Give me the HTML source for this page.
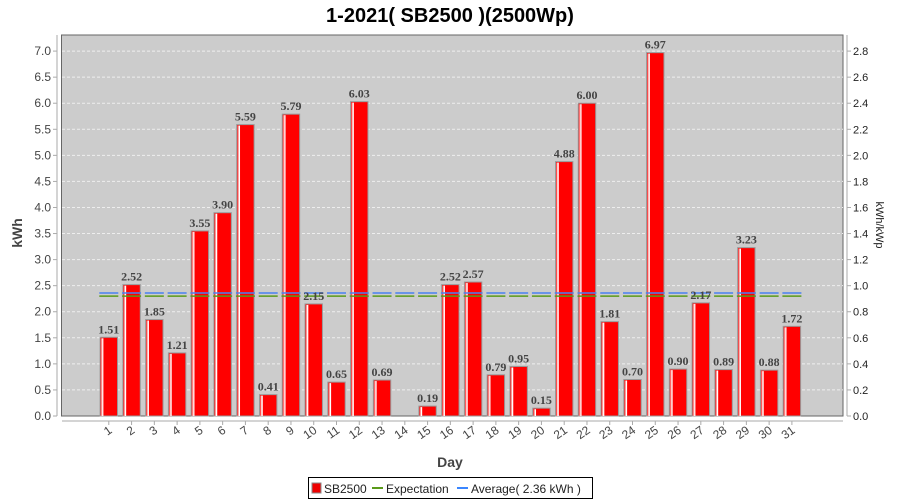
<!DOCTYPE html>
<html><head><meta charset="utf-8"><style>
html,body{margin:0;padding:0;background:#fff;}
svg{display:block;font-family:"Liberation Sans",sans-serif;}
</style></head><body>
<svg width="900" height="500" xmlns="http://www.w3.org/2000/svg">
<rect width="900" height="500" fill="#fff"/>
<text x="450" y="22" text-anchor="middle" font-size="20" font-weight="bold" fill="#000">1-2021( SB2500 )(2500Wp)</text>
<rect x="61.5" y="35" width="781.5" height="381" fill="#cccccc" stroke="#666" stroke-width="1"/>
<g id="grid" stroke="#eee" stroke-dasharray="3,2" stroke-width="1"></g>
<g id="bars"></g>
<g id="lines"></g>
<g id="axes" font-size="12" fill="#444"></g>
<line x1="57" y1="35" x2="57" y2="416" stroke="#aaa"/>
<line x1="847" y1="35" x2="847" y2="416" stroke="#aaa"/>
<line x1="62" y1="421" x2="843" y2="421" stroke="#aaa"/>
<text x="22" y="233" transform="rotate(-90 22 233)" text-anchor="middle" font-size="14" font-weight="bold" fill="#444">kWh</text>
<text x="876" y="225" transform="rotate(90 876 225)" text-anchor="middle" font-size="11" fill="#222">kWh/kWp</text>
<text x="450" y="467" text-anchor="middle" font-size="14" font-weight="bold" fill="#444">Day</text>
<rect x="308.5" y="477.5" width="284" height="21" fill="#fff" stroke="#000"/>
<rect x="312" y="483" width="9" height="10" fill="#e00" stroke="#888"/>
<text x="324" y="493" font-size="12" fill="#222">SB2500</text>
<line x1="372" y1="488" x2="383" y2="488" stroke="#5a9a1a" stroke-width="2"/>
<text x="386" y="493" font-size="12" fill="#222">Expectation</text>
<line x1="457" y1="488" x2="468" y2="488" stroke="#3a86ff" stroke-width="2"/>
<text x="471" y="493" font-size="12" fill="#222">Average( 2.36 kWh )</text>
</svg>
<script>
var ns="http://www.w3.org/2000/svg";
function el(p,t,a,txt){var e=document.createElementNS(ns,t);for(var k in a)e.setAttribute(k,a[k]);if(txt!=null)e.textContent=txt;document.getElementById(p).appendChild(e);return e;}
var y0=416,s=52.13;
for(var v=0.5;v<=7.01;v+=0.5){var y=y0-v*s;el('grid','line',{x1:62,x2:843,y1:y,y2:y});}
for(var v=0;v<=7.01;v+=0.5){var y=y0-v*s;el('axes','line',{x1:53,x2:57,y1:y,y2:y,stroke:'#aaa'});el('axes','text',{x:51,y:y+4,'text-anchor':'end','font-size':12,fill:'#444'},v.toFixed(1));}
for(var v=0;v<=2.81;v+=0.2){var y=y0-v*2.5*s;el('axes','line',{x1:847,x2:851,y1:y,y2:y,stroke:'#aaa'});el('axes','text',{x:853,y:y+4,'font-size':11,fill:'#222'},v.toFixed(1));}
var d=[1.51,2.52,1.85,1.21,3.55,3.90,5.59,0.41,5.79,2.15,0.65,6.03,0.69,0,0.19,2.52,2.57,0.79,0.95,0.15,4.88,6.00,1.81,0.70,6.97,0.90,2.17,0.89,3.23,0.88,1.72];
var ya=y0-2.36*s,ye=y0-2.30*s;
for(var i=0;i<31;i++){var c=108.8+i*22.77;
 var h=d[i]*s,x=c-8.7,t=y0-h;
 if(h>0){el('bars','rect',{x:x,y:t,width:17.4,height:h,fill:'#ff0000',stroke:'#999','stroke-width':1});
  el('bars','rect',{x:x+1,y:t+1,width:1,height:Math.max(h-1,0),fill:'#ff9a9a'});
  el('bars','rect',{x:x+2,y:t+1,width:1.3,height:Math.max(h-1,0),fill:'#fff'});}
 el('lines','line',{x1:c-9.5,x2:c+9.5,y1:ye,y2:ye,stroke:'#5a9a1a','stroke-width':1.5});
 el('lines','line',{x1:c-9.5,x2:c+9.5,y1:ya,y2:ya,stroke:'#4a80f0','stroke-width':2,'stroke-opacity':0.75});
 if(h>0) el('axes','text',{x:c,y:t-4,'text-anchor':'middle','font-size':12,'font-weight':'bold','font-family':'Liberation Serif,serif',fill:'#444'},d[i].toFixed(2));
 el('axes','line',{x1:c,x2:c,y1:421,y2:425,stroke:'#aaa'});
 el('axes','text',{x:c+4,y:432,'text-anchor':'end','font-size':12,fill:'#444',transform:'rotate(-35 '+(c+4)+' 432)'},String(i+1));
}
</script>
</body></html>
